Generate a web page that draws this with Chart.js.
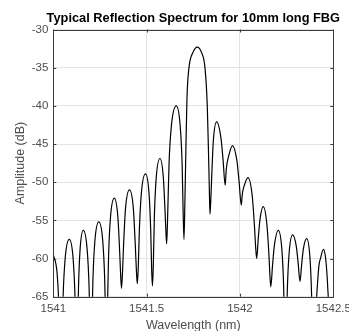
<!DOCTYPE html>
<html>
<head>
<meta charset="utf-8">
<title>Typical Reflection Spectrum for 10mm long FBG</title>
<script src="https://cdn.jsdelivr.net/npm/chart.js@4/dist/chart.umd.min.js"></script>
<style>
    html, body { margin: 0; padding: 0; background: #ffffff; overflow: hidden; }
    #wrap { position: relative; width: 349px; height: 331px; }
</style>
</head>
<body>
<div id="wrap"><canvas id="fbgChart"></canvas></div>
<script>
// Data: wavelength (nm) and reflected amplitude (dB)
const wavelengthNm = [
    1541.0000, 1541.0206, 1541.0311, 1541.0364, 1541.0412, 1541.0466, 1541.0525, 1541.0635, 1541.0857,
    1541.1061, 1541.1162, 1541.1216, 1541.1264, 1541.1307, 1541.1350, 1541.1435, 1541.1607,
    1541.1813, 1541.1918, 1541.1971, 1541.2019, 1541.2068, 1541.2124, 1541.2228, 1541.2437,
    1541.2649, 1541.2753, 1541.2809, 1541.2860, 1541.2908, 1541.2962, 1541.3064, 1541.3267,
    1541.3460, 1541.3557, 1541.3607, 1541.3653, 1541.3704, 1541.3760, 1541.3867, 1541.4081,
    1541.4290, 1541.4395, 1541.4451, 1541.4499, 1541.4553, 1541.4609, 1541.4719, 1541.4938,
    1541.5126, 1541.5220, 1541.5268, 1541.5313, 1541.5362, 1541.5415, 1541.5514, 1541.5715,
    1541.5895, 1541.5983, 1541.6031, 1541.6074, 1541.6136, 1541.6202, 1541.6331, 1541.6588,
    1541.6794, 1541.6899, 1541.6952, 1541.7001, 1541.7054, 1541.7108, 1541.7161, 1541.7268, 1541.7483, 1541.7713,
    1541.7938, 1541.8125, 1541.8249, 1541.8313, 1541.8356, 1541.8393, 1541.8436, 1541.8484, 1541.8573, 1541.8752,
    1541.8980, 1541.9095, 1541.9207, 1541.9266, 1541.9403, 1541.9598,
    1541.9834, 1541.9952, 1542.0070, 1542.0123, 1542.0249, 1542.0429,
    1542.0662, 1542.0777, 1542.0838, 1542.0895, 1542.0983, 1542.1071, 1542.1248,
    1542.1449, 1542.1551, 1542.1602, 1542.1650, 1542.1751, 1542.1851, 1542.2051,
    1542.2244, 1542.2341, 1542.2389, 1542.2437, 1542.2485, 1542.2534, 1542.2630, 1542.2823,
    1542.3018, 1542.3117, 1542.3214, 1542.3305, 1542.3393, 1542.3573,
    1542.3749, 1542.3838, 1542.3883, 1542.3926, 1542.3990, 1542.4108, 1542.4231, 1542.4312, 1542.4472,
    1542.4580, 1542.4660, 1542.4740, 1542.4847, 1542.5000
];

const amplitudeDb = [
    -59.5, -62.0, -67.0, -72.7, -75.0, -71.0, -65.0, -60.0, -57.5,
    -60.0, -65.0, -71.0, -75.0, -69.8, -63.8, -58.8, -56.3,
    -58.8, -63.8, -69.8, -75.0, -68.7, -62.7, -57.7, -55.2,
    -57.7, -62.7, -68.7, -75.0, -65.6, -59.6, -54.6, -52.1,
    -54.6, -59.2, -62.1, -63.9, -62.0, -58.5, -53.5, -51.0,
    -53.5, -58.4, -61.5, -63.3, -61.1, -56.4, -51.4, -48.9,
    -51.4, -56.4, -61.4, -63.6, -60.4, -54.4, -49.4, -46.9,
    -49.4, -53.6, -56.4, -58.1, -53.5, -47.5, -42.5, -40.0,
    -42.5, -47.5, -53.5, -57.5, -52.0, -45.0, -39.0, -35.0, -33.0, -32.3,
    -33.0, -35.0, -40.0, -46.0, -50.5, -54.2, -52.4, -49.4, -44.6, -42.1,
    -44.2, -47.1, -50.4, -48.3, -46.5, -45.2,
    -47.15, -49.9, -53.0, -51.6, -50.3, -49.4,
    -51.9, -55.8, -58.4, -60.0, -57.3, -54.9, -53.2,
    -55.7, -59.5, -62.1, -63.7, -60.7, -58.15, -56.3,
    -58.8, -63.8, -69.8, -75.0, -70.4, -64.4, -59.4, -56.9,
    -58.4, -60.6, -63.0, -60.8, -58.8, -57.4,
    -59.9, -64.9, -70.9, -75.0, -70.0, -65.0, -60.9, -60.0, -58.8,
    -59.8, -62.0, -65.5, -70.0, -74.0
];

const xTicks = [1541, 1541.5, 1542, 1542.5];
const yTicks = [-65, -60, -55, -50, -45, -40, -35, -30];

const chartTitle = 'Typical Reflection Spectrum for 10mm long FBG';

const FONT = '"Liberation Sans", Arial, Helvetica, sans-serif';
const TEXT = '#4d4d4d';
const BOX  = '#3c3c3c';

// title centred over the plot box, plus the closed box with inward ticks
const matlabAxes = {
    id: 'matlabAxes',
    afterDatasetsDraw(chart) {
        const { ctx, chartArea: a, scales: { x, y } } = chart;
        ctx.save();
        ctx.strokeStyle = BOX;
        ctx.lineWidth = 1;
        ctx.beginPath();
        xTicks.forEach(v => {
            const px = Math.round(x.getPixelForValue(v)) + 0.5;
            ctx.moveTo(px, a.bottom); ctx.lineTo(px, a.bottom - 3);
            ctx.moveTo(px, a.top);    ctx.lineTo(px, a.top + 3);
        });
        yTicks.forEach(v => {
            const py = Math.round(y.getPixelForValue(v)) + 0.5;
            ctx.moveTo(a.left, py);  ctx.lineTo(a.left + 3, py);
            ctx.moveTo(a.right, py); ctx.lineTo(a.right - 3, py);
        });
        ctx.stroke();
        ctx.strokeRect(Math.round(a.left) + 0.5, Math.round(a.top) + 0.5,
                       Math.round(a.right - a.left), Math.round(a.bottom - a.top));

        ctx.fillStyle = '#000000';
        ctx.font = 'bold 12.8px ' + FONT;
        ctx.textAlign = 'center';
        ctx.textBaseline = 'middle';
        ctx.fillText(chartTitle, (a.left + a.right) / 2, 18);
        ctx.restore();
    }
};

document.addEventListener('DOMContentLoaded', function() {
    const ctx = document.getElementById('fbgChart');
    new Chart(ctx, {
        type: 'line',
        data: {
            datasets: [{
                label: 'Reflection',
                data: wavelengthNm.map((w, i) => ({ x: w, y: amplitudeDb[i] })),
                borderColor: '#000000',
                borderWidth: 1.2,
                pointRadius: 0,
                cubicInterpolationMode: 'monotone',
                fill: false
            }]
        },
        options: {
            responsive: true,
            maintainAspectRatio: false,
            animation: false,
            events: [],
            layout: { padding: { top: 29.5, right: 0, bottom: 0, left: 0 } },
            plugins: {
                legend: { display: false },
                title: { display: false },
                tooltip: { enabled: false }
            },
            scales: {
                x: {
                    type: 'linear',
                    min: 1541,
                    max: 1542.5,
                    afterBuildTicks: s => { s.ticks = xTicks.map(v => ({ value: v })); },
                    afterFit: s => { s.height = 34.3; s.paddingRight = 15.7; },
                    grid: { color: '#e4e4e4', drawTicks: false },
                    border: { display: false },
                    ticks: {
                        padding: 5,
                        color: TEXT,
                        font: { family: FONT, size: 11.5 },
                        maxRotation: 0,
                        callback: v => String(v)
                    },
                    title: {
                        display: true,
                        text: 'Wavelength (nm)',
                        color: TEXT,
                        font: { family: FONT, size: 12.5 },
                        padding: { top: 0, bottom: -2 }
                    }
                },
                y: {
                    min: -65,
                    max: -30,
                    afterBuildTicks: s => { s.ticks = yTicks.map(v => ({ value: v })); },
                    afterFit: s => { s.width = 53.3; },
                    grid: { color: '#e4e4e4', drawTicks: false },
                    border: { display: false },
                    ticks: {
                        padding: 5,
                        color: TEXT,
                        font: { family: FONT, size: 11.5 },
                        callback: v => String(v)
                    },
                    title: {
                        display: true,
                        text: 'Amplitude (dB)',
                        color: TEXT,
                        font: { family: FONT, size: 12.5 },
                        padding: { top: 13.5, bottom: 0 }
                    }
                }
            }
        },
        plugins: [matlabAxes]
    });
});
</script>
</body>
</html>
